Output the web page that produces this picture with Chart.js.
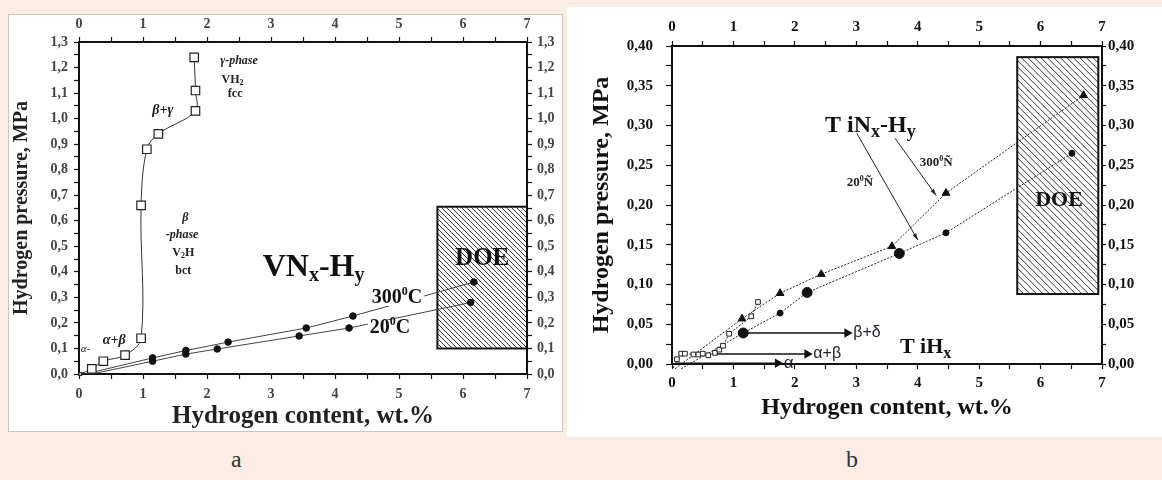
<!DOCTYPE html>
<html>
<head>
<meta charset="utf-8">
<script src="https://cdn.jsdelivr.net/npm/chart.js@4.4.1/dist/chart.umd.min.js"></script>
<style>
  body { margin: 0; width: 1162px; height: 480px; background: #fbede3; position: relative; overflow: hidden; font-family: 'Liberation Serif', serif; }
  .box { position: absolute; background: #fff; }
  #boxA { left: 8px; top: 14px; width: 553px; height: 416px; border: 1px solid #cbc6c2; }
  #boxB { left: 567px; top: 7px; width: 595px; height: 430px; }
  canvas { position: absolute; }
  #chartA { left: 8px; top: 14px; }
  #chartB { left: 567px; top: 7px; }
  .cap { position: absolute; top: 446px; font-size: 24px; color: #333; }
</style>
</head>
<body>
<div class="box" id="boxA"></div>
<div class="box" id="boxB"></div>
<canvas id="chartA" width="555" height="418"></canvas>
<canvas id="chartB" width="595" height="430"></canvas>
<div class="cap" style="left:231px">a</div>
<div class="cap" style="left:846px">b</div>
<script>
// ---- panel a : VNx-Hy ----
const vhX   = [0.02, 0.20, 0.38, 0.72, 0.97, 0.97, 1.06, 1.24, 1.82, 1.82, 1.80];
const vhP   = [0.00, 0.02, 0.05, 0.074, 0.14, 0.66, 0.88, 0.94, 1.03, 1.11, 1.24];
const vn300X = [0.10, 1.15, 1.67, 2.33, 3.55, 4.28, 6.17];
const vn300P = [0.00, 0.063, 0.092, 0.125, 0.18, 0.227, 0.36];
const vn20X  = [0.20, 1.15, 1.67, 2.16, 3.44, 4.22, 6.12];
const vn20P  = [0.00, 0.05, 0.078, 0.098, 0.149, 0.18, 0.28];
const doeAX = [5.6, 7.0];
const doeAP = [0.10, 0.655];
const pLabelsA = ['0,0', '0,1', '0,2', '0,3', '0,4', '0,5', '0,6', '0,7', '0,8', '0,9', '1,0', '1,1', '1,2', '1,3'];

// ---- panel b : TiNx-Hy ----
const ti300X = [0.05, 1.14, 1.76, 2.43, 3.58, 4.46, 6.70];
const ti300P = [-0.006, 0.057, 0.089, 0.113, 0.148, 0.215, 0.338];
const ti20X  = [0.15, 1.16, 1.76, 2.20, 3.70, 4.46, 6.51];
const ti20P  = [-0.006, 0.039, 0.064, 0.090, 0.139, 0.165, 0.265];
const tihX = [0.02, 0.08, 0.15, 0.21, 0.35, 0.43, 0.50, 0.59, 0.70, 0.77, 0.83, 0.93, 1.29, 1.40];
const tihP = [-0.005, 0.006, 0.013, 0.013, 0.012, 0.012, 0.013, 0.011, 0.014, 0.018, 0.023, 0.038, 0.060, 0.078];
const alphaX = [0.05, 1.72],  alphaP = [0.001, 0.001];
const abX    = [0.73, 2.20],  abP    = [0.0125, 0.0125];
const bdX    = [1.20, 2.85],  bdP    = [0.039, 0.039];
const doeBX = [5.62, 6.94];
const doeBP = [0.088, 0.386];
const pLabelsB = ['0,00', '0,05', '0,10', '0,15', '0,20', '0,25', '0,30', '0,35', '0,40'];
const xLabels = ['0', '1', '2', '3', '4', '5', '6', '7'];

const pts = (xs, ys) => xs.map((x, i) => ({x: x, y: ys[i]}));

Chart.defaults.font.family = "'Liberation Serif', serif";
Chart.defaults.animation = false;

function axis(o) {
  return {
    type: 'linear', position: o.pos, min: o.min, max: o.max,
    ticks: {
      stepSize: o.step, autoSkip: false, maxRotation: 0, maxTicksLimit: 500,
      padding: o.pad, font: o.font, color: o.color,
      callback: o.label
    },
    grid: { drawOnChartArea: false, tickLength: o.tl, color: '#111', tickWidth: 1.2 },
    border: { display: true, color: '#111', width: 2 },
    title: o.title || { display: false },
    afterFit: s => { if (o.w !== undefined) s.width = o.w; if (o.h !== undefined) s.height = o.h; }
  };
}

function drawNote(chart, n) {
  const ctx = chart.ctx;
  const px = chart.scales.x.getPixelForValue(n.x);
  const py = chart.scales.y.getPixelForValue(n.p);
  ctx.save();
  ctx.textBaseline = 'middle';
  let w = 0;
  n.parts.forEach(([t, f]) => { ctx.font = f; w += ctx.measureText(t).width; });
  let x0 = n.left ? px : px - w / 2;
  if (n.bg) {
    ctx.fillStyle = n.bg;
    ctx.fillRect(x0 - 2, py - n.bh / 2, w + 4, n.bh);
  }
  ctx.fillStyle = n.color || '#222';
  n.parts.forEach(([t, f, dy]) => { ctx.font = f; ctx.fillText(t, x0, py + (dy || 0)); x0 += ctx.measureText(t).width; });
  ctx.restore();
}

function drawDoe(chart, xs, ps, gap) {
  const ctx = chart.ctx, sx = chart.scales.x, sy = chart.scales.y;
  const l = sx.getPixelForValue(xs[0]), r = sx.getPixelForValue(xs[1]);
  const t = sy.getPixelForValue(ps[1]), b = sy.getPixelForValue(ps[0]);
  ctx.save();
  ctx.beginPath(); ctx.rect(l, t, r - l, b - t); ctx.clip();
  ctx.strokeStyle = '#333'; ctx.lineWidth = 1;
  ctx.beginPath();
  for (let k = -(b - t); k < r - l; k += gap) { ctx.moveTo(l + k, t); ctx.lineTo(l + k + (b - t), b); }
  ctx.stroke();
  ctx.restore();
  ctx.save();
  ctx.strokeStyle = '#111'; ctx.lineWidth = 2;
  ctx.strokeRect(l, t, r - l, b - t);
  ctx.restore();
}

function leader(chart, a, b) {
  const ctx = chart.ctx, sx = chart.scales.x, sy = chart.scales.y;
  const x1 = sx.getPixelForValue(a[0]), y1 = sy.getPixelForValue(a[1]);
  const x2 = sx.getPixelForValue(b[0]), y2 = sy.getPixelForValue(b[1]);
  const ang = Math.atan2(y2 - y1, x2 - x1);
  ctx.save();
  ctx.strokeStyle = '#222'; ctx.fillStyle = '#222'; ctx.lineWidth = 1;
  ctx.beginPath(); ctx.moveTo(x1, y1); ctx.lineTo(x2, y2); ctx.stroke();
  ctx.beginPath();
  ctx.moveTo(x2, y2);
  ctx.lineTo(x2 - 7 * Math.cos(ang - 0.3), y2 - 7 * Math.sin(ang - 0.3));
  ctx.lineTo(x2 - 7 * Math.cos(ang + 0.3), y2 - 7 * Math.sin(ang + 0.3));
  ctx.closePath(); ctx.fill();
  ctx.restore();
}

// ---------- chart a ----------
const SB = 'bold 12px "Liberation Serif"', SI = 'italic bold 12px "Liberation Serif"';
const notesA = [
  {x: 2.50, p: 1.225, parts: [['γ-phase', SI]]},
  {x: 2.40, p: 1.150, parts: [['VH', SB], ['2', 'bold 8px "Liberation Serif"', 3]]},
  {x: 2.44, p: 1.096, parts: [['fcc', SB]]},
  {x: 1.31, p: 1.034, parts: [['β+γ', 'italic bold 14px "Liberation Serif"']]},
  {x: 1.66, p: 0.610, parts: [['β', SI]]},
  {x: 1.61, p: 0.544, parts: [['-phase', SI]]},
  {x: 1.63, p: 0.474, parts: [['V', SB], ['2', 'bold 8px "Liberation Serif"', 3], ['H', SB]]},
  {x: 1.63, p: 0.403, parts: [['bct', SB]]},
  {x: 0.55, p: 0.130, parts: [['α+β', 'italic bold 14px "Liberation Serif"']]},
  {x: 0.10, p: 0.098, parts: [['α-', 'italic 11px "Liberation Serif"']]},
  {x: 2.87, p: 0.415, left: true, color: '#111', parts: [['VN', 'bold 32px "Liberation Serif"'], ['x', 'bold 20px "Liberation Serif"', 8], ['-H', 'bold 32px "Liberation Serif"'], ['y', 'bold 20px "Liberation Serif"', 8]]},
  {x: 6.30, p: 0.454, color: '#111', parts: [['DOE', 'bold 25px "Liberation Serif"']]},
  {x: 4.97, p: 0.298, color: '#111', bg: '#fff', bh: 16, parts: [['300', 'bold 20px "Liberation Serif"'], ['0', 'bold 12px "Liberation Serif"', -6], ['C', 'bold 20px "Liberation Serif"']]},
  {x: 4.86, p: 0.180, color: '#111', bg: '#fff', bh: 16, parts: [['20', 'bold 20px "Liberation Serif"'], ['0', 'bold 12px "Liberation Serif"', -6], ['C', 'bold 20px "Liberation Serif"']]}
];

const pluginA = {
  id: 'extrasA',
  beforeDatasetsDraw(chart) { drawDoe(chart, doeAX, doeAP, 5); },
  afterDatasetsDraw(chart) { notesA.forEach(n => drawNote(chart, n)); }
};

const tickA = {font: {size: 14, weight: 'bold'}, color: '#444'};
const xLab = v => Number.isInteger(v) ? xLabels[v] : '';
const pLabA = v => { const k = Math.round(v * 10); return Math.abs(v * 10 - k) < 1e-6 ? pLabelsA[k] : ''; };

new Chart(document.getElementById('chartA'), {
  type: 'scatter',
  data: {
    datasets: [
      {data: pts(vhX, vhP), showLine: true, tension: 0.35, borderColor: '#333', borderWidth: 1,
       pointStyle: 'rect', pointRadius: c => c.dataIndex === 0 ? 2 : 6, backgroundColor: '#fff', pointBorderColor: '#222', pointBorderWidth: 1.2, clip: false},
      {data: pts(vn300X, vn300P), showLine: true, borderColor: '#444', borderWidth: 1,
       pointRadius: c => c.dataIndex === 0 ? 0 : 3.3, backgroundColor: '#111', pointBorderColor: '#111'},
      {data: pts(vn20X, vn20P), showLine: true, borderColor: '#444', borderWidth: 1,
       pointRadius: c => c.dataIndex === 0 ? 0 : 3.3, backgroundColor: '#111', pointBorderColor: '#111'}
    ]
  },
  options: {
    responsive: false,
    layout: {padding: 0},
    plugins: {legend: {display: false}, tooltip: {enabled: false}},
    scales: {
      x: axis({pos: 'bottom', min: 0, max: 7, step: 0.5, pad: 7, tl: 5, h: 58, label: xLab, ...tickA,
        title: {display: true, text: 'Hydrogen content, wt.%', font: {size: 25, weight: 'bold'}, color: '#222', padding: {top: 0, bottom: 0}}}),
      x2: axis({pos: 'top', min: 0, max: 7, step: 0.5, pad: 4, tl: 5, h: 28, label: xLab, ...tickA}),
      y: axis({pos: 'left', min: 0, max: 1.3, step: 0.05, pad: 6, tl: 5, w: 71, label: pLabA, ...tickA,
        title: {display: true, text: 'Hydrogen pressure, MPa', font: {size: 20, weight: 'bold'}, color: '#222', padding: {top: 2, bottom: 0}}}),
      y2: axis({pos: 'right', min: 0, max: 1.3, step: 0.05, pad: 5, tl: 5, w: 36, label: pLabA, ...tickA})
    }
  },
  plugins: [pluginA]
});

// ---------- chart b ----------
const notesB = [
  {x: 2.49, p: 0.300, left: true, color: '#111', parts: [['T iN', 'bold 24px "Liberation Serif"'], ['x', 'bold 18px "Liberation Serif"', 7], ['-H', 'bold 24px "Liberation Serif"'], ['y', 'bold 18px "Liberation Serif"', 7]]},
  {x: 4.30, p: 0.253, color: '#222', parts: [['300', 'bold 13px "Liberation Serif"'], ['0', 'bold 8px "Liberation Serif"', -4], ['Ñ', 'bold 13px "Liberation Serif"']]},
  {x: 3.06, p: 0.228, color: '#222', parts: [['20', 'bold 13px "Liberation Serif"'], ['0', 'bold 8px "Liberation Serif"', -4], ['Ñ', 'bold 13px "Liberation Serif"']]},
  {x: 6.30, p: 0.206, color: '#111', parts: [['DOE', 'bold 22px "Liberation Serif"']]},
  {x: 3.71, p: 0.021, left: true, color: '#111', parts: [['T iH', 'bold 22px "Liberation Serif"'], ['x', 'bold 16px "Liberation Serif"', 7]]},
  {x: 1.82, p: 0.001, left: true, color: '#223', parts: [['α', '17px "Liberation Sans"']]},
  {x: 2.30, p: 0.0125, left: true, color: '#223', parts: [['α+β', '16px "Liberation Sans"']]},
  {x: 2.95, p: 0.039, left: true, color: '#223', parts: [['β+δ', '16px "Liberation Sans"']]}
];
const leadersB = [
  [[3.01, 0.290], [4.00, 0.156]],
  [[3.63, 0.284], [4.30, 0.212]]
];

const pluginB = {
  id: 'extrasB',
  beforeDatasetsDraw(chart) { drawDoe(chart, doeBX, doeBP, 6.5); },
  afterDatasetsDraw(chart) {
    leadersB.forEach(l => leader(chart, l[0], l[1]));
    notesB.forEach(n => drawNote(chart, n));
  }
};

const tickB = {font: {size: 15, weight: 'bold'}, color: '#111'};
const pLabB = v => { const k = Math.round(v * 20); return Math.abs(v * 20 - k) < 1e-6 ? pLabelsB[k] : ''; };
const bigDots = [1, 3, 4];
const arrowSet = (xs, ys) => ({
  data: pts(xs, ys), showLine: true, borderColor: '#111', borderWidth: 1.5,
  pointStyle: 'triangle', rotation: 90, pointRadius: c => c.dataIndex === 1 ? 4 : 0,
  backgroundColor: '#111', pointBorderColor: '#111', clip: false
});

new Chart(document.getElementById('chartB'), {
  type: 'scatter',
  data: {
    datasets: [
      arrowSet(alphaX, alphaP),
      arrowSet(abX, abP),
      arrowSet(bdX, bdP),
      {data: pts(tihX, tihP), showLine: true, borderColor: '#222', borderWidth: 1, borderDash: [2, 1.5],
       pointStyle: 'rect', pointRadius: c => c.dataIndex === 0 ? 0 : 3.3, backgroundColor: '#fff', pointBorderColor: '#222', pointBorderWidth: 1, clip: false},
      {data: pts(ti300X, ti300P), showLine: true, borderColor: '#222', borderWidth: 1, borderDash: [2, 1.5],
       pointStyle: 'triangle', pointRadius: c => c.dataIndex === 0 ? 0 : 4.5, backgroundColor: '#111', pointBorderColor: '#111', clip: false},
      {data: pts(ti20X, ti20P), showLine: true, borderColor: '#222', borderWidth: 1, borderDash: [2, 1.5],
       pointRadius: c => c.dataIndex === 0 ? 0 : (bigDots.includes(c.dataIndex) ? 5 : 3), backgroundColor: '#111', pointBorderColor: '#111', clip: false}
    ]
  },
  options: {
    responsive: false,
    layout: {padding: 0},
    plugins: {legend: {display: false}, tooltip: {enabled: false}},
    scales: {
      x: axis({pos: 'bottom', min: 0, max: 7, step: 0.5, pad: 5, tl: 5, h: 73, label: xLab, ...tickB,
        title: {display: true, text: 'Hydrogen content, wt.%', font: {size: 24, weight: 'bold'}, color: '#111', padding: {top: 0, bottom: 15}}}),
      x2: axis({pos: 'top', min: 0, max: 7, step: 0.5, pad: 5, tl: 5, h: 39, label: xLab, ...tickB}),
      y: axis({pos: 'left', min: 0, max: 0.4, step: 0.025, pad: 13, tl: 6, w: 105, label: pLabB, ...tickB,
        title: {display: true, text: 'Hydrogen pressure, MPa', font: {size: 24, weight: 'bold'}, color: '#111', padding: {top: 20, bottom: 0}}}),
      y2: axis({pos: 'right', min: 0, max: 0.4, step: 0.025, pad: 2, tl: 4, w: 60, label: pLabB, ...tickB})
    }
  },
  plugins: [pluginB]
});
</script>
</body>
</html>
